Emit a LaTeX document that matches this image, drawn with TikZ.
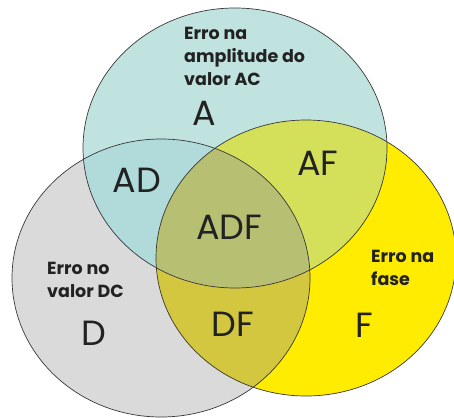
\documentclass[tikz,border=0pt]{standalone}
\usepackage{fontspec}
\setmainfont{Poppins}
\definecolor{afill}{HTML}{C1E3DF}
\definecolor{dfill}{HTML}{DADADA}
\definecolor{ffill}{HTML}{FFEC00}
\definecolor{adfill}{HTML}{B1DADA}
\definecolor{affill}{HTML}{D4E05A}
\definecolor{dffill}{HTML}{D4C740}
\definecolor{adffill}{HTML}{B6BF72}
\definecolor{ink}{HTML}{222222}
\tikzset{
  outline/.style={draw=ink!90, line width=0.7pt},
  biglabel/.style={text=ink, font=\fontsize{35}{40}\selectfont, inner sep=0pt},
  desc/.style={text=ink, font=\fontsize{17.5}{23}\selectfont\bfseries, align=left, anchor=west, inner sep=0pt}
}
\begin{document}
\begin{tikzpicture}[x=1pt,y=-1pt]
\useasboundingbox (0,0) rectangle (454,417);
\def\ellA{(235,148) ellipse [x radius=152, y radius=140]}
\def\ellD{(161,278) ellipse [x radius=149, y radius=139]}
\def\ellF{(306,258) ellipse [x radius=150, y radius=138]}
\fill[dfill] \ellD;
\fill[ffill] \ellF;
\fill[afill] \ellA;
\begin{scope}
  \clip \ellA;
  \fill[adfill] \ellD;
  \fill[affill] \ellF;
\end{scope}
\begin{scope}
  \clip \ellD;
  \fill[dffill] \ellF;
\end{scope}
\begin{scope}
  \clip \ellA;
  \clip \ellD;
  \fill[adffill] \ellF;
\end{scope}
\draw[outline] \ellD;
\draw[outline] \ellF;
\draw[outline] \ellA;
\node[desc] (tA) at (184,56) {Erro na\\amplitude do\\valor AC};
\node[desc] (tD) at (47,280) {Erro no\\valor DC};
\node[desc] (tF) at (371,268) {Erro na\\fase};
\node[biglabel] (A) at (204,113) {A};
\node[biglabel] (AD) at (137,180) {AD};
\node[biglabel] (AF) at (318,163) {AF};
\node[biglabel] (ADF) at (229,227) {ADF};
\node[biglabel] (DF) at (233,324) {DF};
\node[biglabel] (D) at (94,333) {D};
\node[biglabel] (F) at (364,325) {F};
\end{tikzpicture}
\end{document}
